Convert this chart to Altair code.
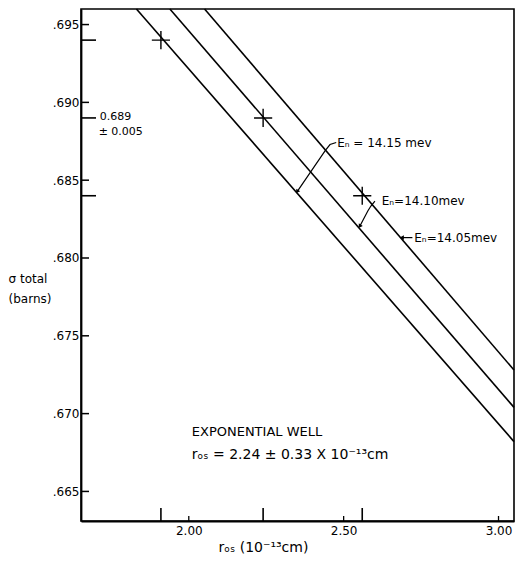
import altair as alt
import pandas as pd

# ---- data ----
series = ["14.15", "14.10", "14.05"]
line_x_start = [1.831, 1.939, 2.051]     # where each line leaves the top edge
line_y_start = [0.696, 0.696, 0.696]
line_x_end = [3.05, 3.05, 3.05]          # right edge
line_y_end = [0.6682, 0.6704, 0.6728]

cross_x = [1.91, 2.24, 2.56]
cross_y = [0.694, 0.689, 0.684]

y_ticks = [0.665, 0.670, 0.675, 0.680, 0.685, 0.690, 0.695]
x_ticks = [2.00, 2.50, 3.00]

energy_text = ["Eₙ = 14.15 mev", "Eₙ=14.10mev", "Eₙ=14.05mev"]
energy_x = [2.479, 2.623, 2.728]
energy_y = [0.68742, 0.68366, 0.68131]

leader_id = ["a", "a", "a", "a", "b", "b", "b", "b", "c", "c"]
leader_ord = [0, 1, 2, 3, 0, 1, 2, 3, 0, 1]
leader_x = [2.476, 2.456, 2.441, 2.351, 2.601, 2.588, 2.578, 2.553, 2.722, 2.690]
leader_y = [0.68742, 0.68729, 0.68691, 0.68430, 0.68366, 0.68334, 0.68302, 0.68207, 0.68131, 0.68131]

arrow_x = [2.351, 2.553, 2.690]
arrow_y = [0.68430, 0.68207, 0.68131]
arrow_angle = [214, 213, 270]

note_text = ["0.689", "± 0.005", "EXPONENTIAL WELL", "rₒₛ = 2.24 ± 0.33 X 10⁻¹³cm"]
note_x = [1.7125, 1.709, 2.0096, 2.0096]
note_y = [0.68905, 0.68810, 0.66882, 0.66736]
note_size = [11, 11, 13, 14]

W, H = 433, 512
FONT = "DejaVu Sans"

lines_df = pd.DataFrame({
    "series": series * 2,
    "x": line_x_start + line_x_end,
    "y": line_y_start + line_y_end,
})
cross_df = pd.DataFrame({"x": cross_x, "y": cross_y})
ytick_df = pd.DataFrame({"y": y_ticks})
xtick_df = pd.DataFrame({"x": x_ticks})
energy_df = pd.DataFrame({"x": energy_x, "y": energy_y, "t": energy_text})
leader_df = pd.DataFrame({"id": leader_id, "o": leader_ord, "x": leader_x, "y": leader_y})
arrow_df = pd.DataFrame({"x": arrow_x, "y": arrow_y, "a": arrow_angle})
note_df = pd.DataFrame({"x": note_x, "y": note_y, "t": note_text, "s": note_size})

x_scale = alt.Scale(domain=[1.652, 3.05], nice=False, zero=False)
y_scale = alt.Scale(domain=[0.6631, 0.696], nice=False, zero=False)

x_axis = alt.Axis(values=x_ticks, format=".2f", ticks=False, grid=False, labelPadding=4,
                  title="rₒₛ (10⁻¹³cm)", titleFontSize=14, titleFontWeight="normal",
                  titleX=137, titleY=30, titleAlign="left", titleBaseline="alphabetic")
y_axis = alt.Axis(values=y_ticks, labelExpr="substring(format(datum.value, '.3f'), 1)",
                  ticks=False, grid=False, labelPadding=2,
                  title=["σ total", "(barns)"], titleAngle=0, titleAlign="left",
                  titleBaseline="alphabetic", titleX=-73, titleY=273, titleLineHeight=20,
                  titleFontSize=12, titleFontWeight="normal")

X = alt.X("x:Q", scale=x_scale, axis=x_axis)
Y = alt.Y("y:Q", scale=y_scale, axis=y_axis)

lines = alt.Chart(lines_df).mark_line(color="black", strokeWidth=1.6).encode(
    x=X, y=Y, detail="series:N")

crosses = alt.Chart(cross_df).mark_point(
    shape="M-1,0L1,0M0,-1L0,1", size=330, filled=False, color="black", strokeWidth=1.4, opacity=1
).encode(x=X, y=Y)

yticks = alt.Chart(ytick_df).mark_rule(color="black", strokeWidth=1.5).encode(
    y=Y, x=alt.value(0), x2=alt.value(8))
yticks_long = alt.Chart(cross_df).mark_rule(color="black", strokeWidth=1.6).encode(
    y=Y, x=alt.value(0), x2=alt.value(15))
xticks = alt.Chart(xtick_df).mark_rule(color="black", strokeWidth=1.3).encode(
    x=X, y=alt.value(H - 5), y2=alt.value(H))
xticks_long = alt.Chart(cross_df).mark_rule(color="black", strokeWidth=1.6).encode(
    x=X, y=alt.value(H - 13), y2=alt.value(H))

leaders = alt.Chart(leader_df).mark_line(color="black", strokeWidth=1.2).encode(
    x=X, y=Y, detail="id:N", order="o:Q")
arrows = alt.Chart(arrow_df).mark_point(
    shape="triangle", size=22, filled=True, color="black", opacity=1
).encode(x=X, y=Y, angle=alt.Angle("a:Q", scale=None))

energy = alt.Chart(energy_df).mark_text(
    align="left", baseline="middle", fontSize=12, font=FONT, color="black"
).encode(x=X, y=Y, text="t:N")

notes = alt.Chart(note_df).mark_text(
    align="left", baseline="middle", font=FONT, color="black"
).encode(x=X, y=Y, text="t:N", size=alt.Size("s:Q", scale=None, legend=None))

chart = alt.layer(
    lines, crosses, yticks, yticks_long, xticks, xticks_long, leaders, arrows, energy, notes
).properties(
    width=W, height=H,
    padding={"left": 73, "top": 1, "right": 1, "bottom": 33},
    autosize=alt.AutoSizeParams(type="none"),
).configure_view(
    stroke="black", strokeWidth=1.6
).configure_axis(
    domainColor="black", domainWidth=1.8, labelColor="black", titleColor="black",
    labelFont=FONT, titleFont=FONT, labelFontSize=12
)

chart.save("out.html", embed_options={"renderer": "svg", "actions": False})
